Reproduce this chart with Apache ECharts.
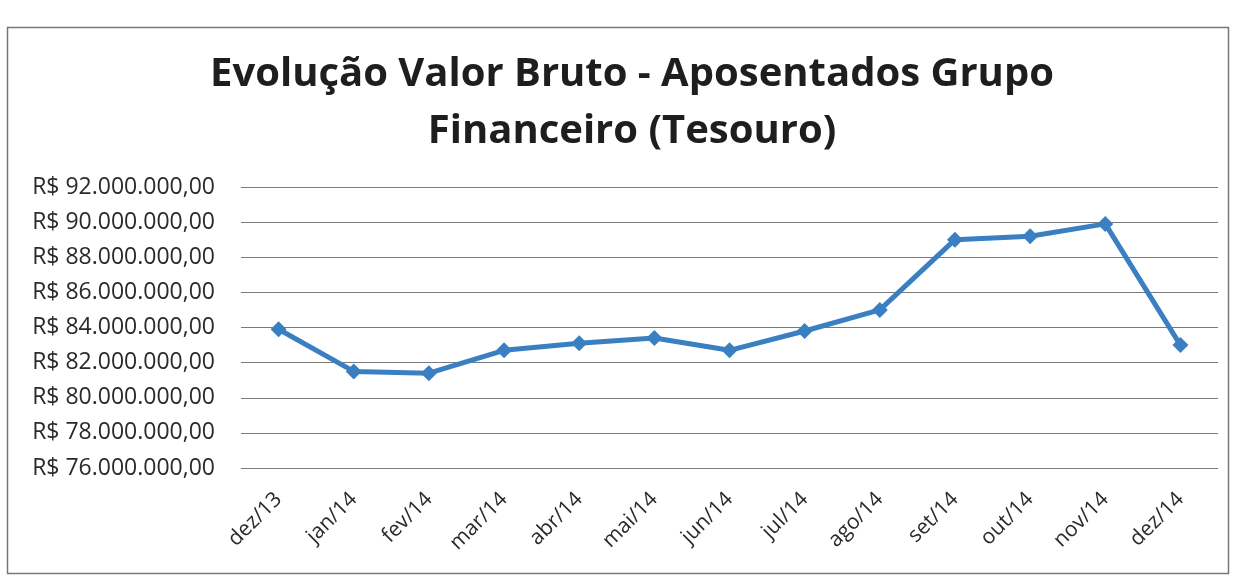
<!DOCTYPE html>
<html>
<head>
<meta charset="utf-8">
<title>Evolução Valor Bruto - Aposentados Grupo Financeiro (Tesouro)</title>
<script src="https://cdn.jsdelivr.net/npm/echarts@6/dist/echarts.min.js"></script>
<style>
  html, body { margin: 0; padding: 0; background: #fff; }
  #chart { width: 1237px; height: 582px; }
</style>
</head>
<body>
<div id="chart"></div>
<script>
  // meses
  var categorias = ['dez/13', 'jan/14', 'fev/14', 'mar/14', 'abr/14', 'mai/14', 'jun/14',
    'jul/14', 'ago/14', 'set/14', 'out/14', 'nov/14', 'dez/14'];
  // valor bruto (R$)
  var valorBruto = [83900000, 81500000, 81400000, 82700000, 83100000, 83400000, 82700000,
    83800000, 85000000, 89000000, 89200000, 89900000, 83000000];
  var eixoMin = 76000000;
  var eixoMax = 92000000;
  var eixoPasso = 2000000;

  // formato pt-BR: R$ 92.000.000,00
  function formatarReais(v) {
    var inteiro = Math.round(v).toString().replace(/\B(?=(\d{3})+(?!\d))/g, '.');
    return 'R$ ' + inteiro + ',00';
  }

  var chart = echarts.init(document.getElementById('chart'));
  var option = {
    backgroundColor: '#fff',
    animation: false,
    title: {
      text: 'Evolução Valor Bruto - Aposentados Grupo\nFinanceiro (Tesouro)',
      left: 627,
      top: 41,
      textAlign: 'center',
      textStyle: {
        fontFamily: 'Open Sans',
        fontSize: 40,
        fontWeight: 'bold',
        color: '#1e1e1e',
        lineHeight: 57
      }
    },
    graphic: [{
      type: 'rect',
      shape: { x: 7.5, y: 27.5, width: 1221, height: 546 },
      style: { fill: 'none', stroke: '#777', lineWidth: 1.5 },
      silent: true
    }],
    grid: {
      left: 241,
      right: 19,
      top: 187,
      bottom: 582 - 468
    },
    xAxis: {
      type: 'category',
      data: categorias,
      boundaryGap: true,
      axisLine: { show: false },
      axisTick: { show: false },
      axisLabel: {
        rotate: 45,
        margin: 28,
        fontFamily: 'Open Sans',
        fontSize: 21,
        color: '#2a2a2a'
      }
    },
    yAxis: {
      type: 'value',
      min: eixoMin,
      max: eixoMax,
      interval: eixoPasso,
      axisLine: { show: false },
      axisTick: { show: false },
      axisLabel: {
        margin: 26,
        fontFamily: 'Open Sans',
        fontSize: 23,
        color: '#2a2a2a',
        formatter: formatarReais
      },
      splitLine: { lineStyle: { color: '#7a7a7a', width: 1.2 } }
    },
    series: [{
      type: 'line',
      data: valorBruto,
      symbol: 'diamond',
      symbolSize: 16,
      lineStyle: { color: '#3a7fc1', width: 5 },
      itemStyle: { color: '#3a7fc1' }
    }]
  };
  chart.setOption(option);
</script>
</body>
</html>
